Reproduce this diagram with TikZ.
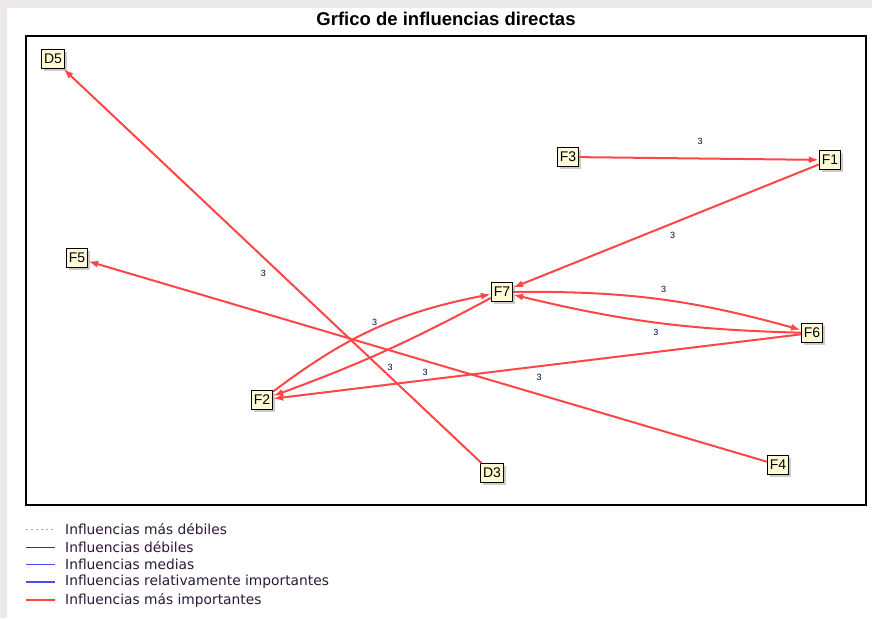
\documentclass[tikz,border=0pt]{standalone}
\usepackage{fontspec}
\setmainfont{Liberation Sans}
\newfontfamily\legfont{DejaVu Sans}
\usetikzlibrary{arrows.meta}
\usetikzlibrary{shadows}
\tikzset{>={Latex[length=10pt,width=7pt]}}
\definecolor{fondo}{HTML}{EEE9E9}
\definecolor{crema}{HTML}{FFFAD6}
\definecolor{rojo}{HTML}{FF4646}
\definecolor{azul}{HTML}{4A4AFF}
\definecolor{txtley}{HTML}{2E1838}
\tikzset{
  var/.style={draw=black, line width=1pt, fill=crema, inner sep=2.5pt, minimum height=19pt,
    font=\fontsize{14}{14}\selectfont,
    drop shadow={shadow xshift=2.5pt, shadow yshift=-2.5pt, fill=black!40}},
  fuerte/.style={->, rojo, line width=2pt},
  peso/.style={font=\fontsize{9}{9}\selectfont, text=black!75!blue, inner sep=0pt},
  ley/.style={font=\legfont\fontsize{13.8}{14}\selectfont, text=txtley, anchor=west, inner sep=0pt}
}

\begin{document}
\begin{tikzpicture}[x=1pt,y=-1pt]
  \fill[fondo] (0,0) rectangle (872,618);
  \fill[white] (7,8) rectangle (872,618);
  \useasboundingbox (0,0) rectangle (872,618);
  \node[font=\bfseries\fontsize{18.5}{19}\selectfont] (titulo) at (446,19) {Grfico de influencias directas};
  \draw[line width=1.3pt] (26,36) rectangle (866,505);
  % variables
  \node[var] (D5) at (53,59) {D5};
  \node[var] (F3) at (568,157) {F3};
  \node[var] (F1) at (830,160) {F1};
  \node[var] (F5) at (77,258) {F5};
  \node[var] (F7) at (502,292) {F7};
  \node[var] (F6) at (812,333) {F6};
  \node[var] (F2) at (262,400) {F2};
  \node[var] (D3) at (492,473) {D3};
  \node[var] (F4) at (778,465) {F4};
  % influencias
  \draw[fuerte] (D3) -- (D5) node[peso,midway,shift={(-9,7.5)}] {3};
  \draw[fuerte] (F3) -- (F1) node[peso,midway,shift={(1,-17)}] {3};
  \draw[fuerte] (F1) -- (F7) node[peso,midway,shift={(6.5,9.5)}] {3};
  \draw[fuerte] (F7) to[bend left=8] node[peso,midway,shift={(5,-10)}] {3} (F6);
  \draw[fuerte] (F6) to[bend left=6] node[peso,midway,shift={(0,10)}] {3} (F7);
  \draw[fuerte] (F6) -- (F2) node[peso,midway,shift={(2,10.5)}] {3};
  \draw[fuerte] (F4) -- (F5) node[peso,midway,shift={(-2.5,11)}] {3};
  \draw[fuerte] (F2) to[bend left=13] node[peso,midway,shift={(-1,-6)}] {3} (F7);
  \draw[fuerte] (F7) to[bend left=4] node[peso,midway,shift={(6,16)}] {3} (F2);
  % leyenda
  \draw[black!35, line width=0.8pt, dash pattern=on 2pt off 3pt] (26,529) -- (55,529);
  \draw[black!75, line width=0.8pt] (26,547) -- (55,547);
  \draw[azul, line width=0.8pt] (26,564) -- (55,564);
  \draw[azul, line width=2pt] (26,582) -- (55,582);
  \draw[rojo, line width=2pt] (26,600) -- (55,600);
  \node[ley] (l1) at (65,529) {Influencias más débiles};
  \node[ley] (l2) at (65,547) {Influencias débiles};
  \node[ley] (l3) at (65,564) {Influencias medias};
  \node[ley] (l4) at (65,582) {Influencias relativamente importantes};
  \node[ley] (l5) at (65,600) {Influencias más importantes};
\end{tikzpicture}
\end{document}
